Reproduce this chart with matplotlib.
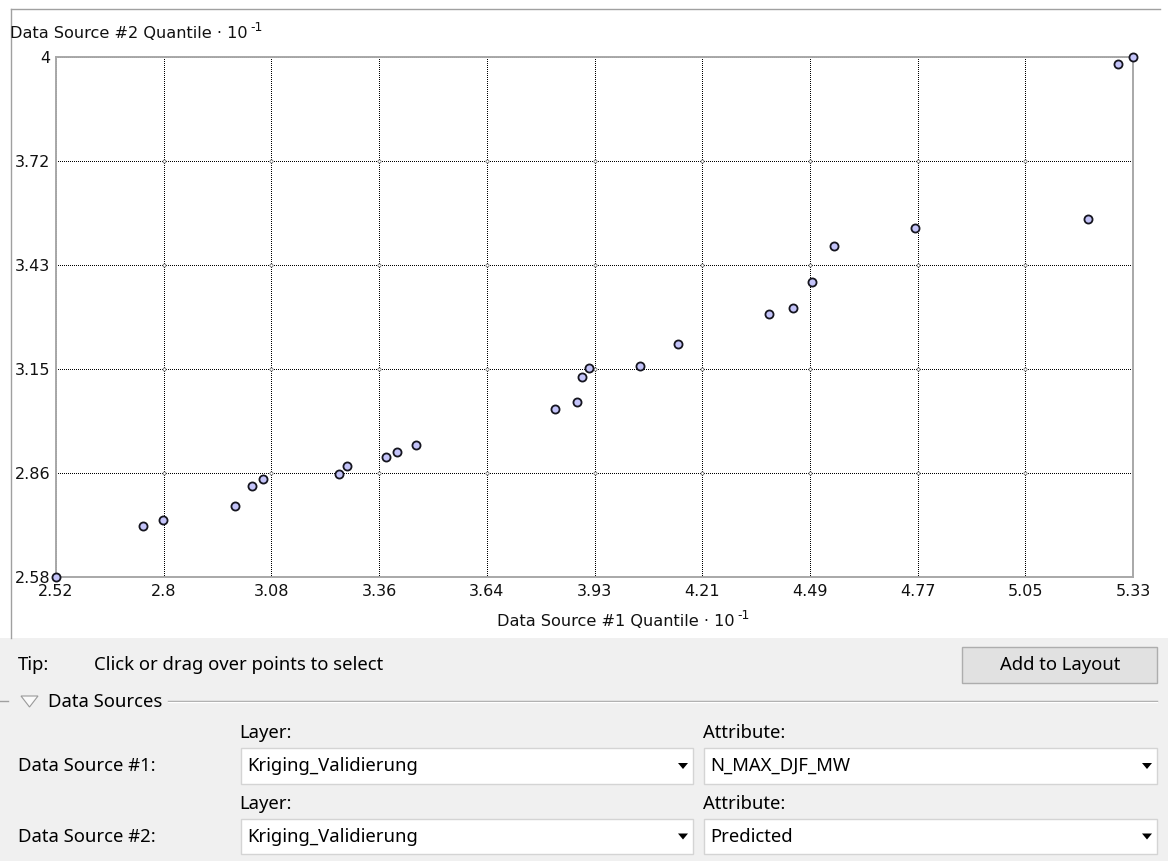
import numpy as np
import matplotlib
matplotlib.use("Agg")
import matplotlib.pyplot as plt
from matplotlib.patches import Rectangle, Polygon

W, H = 1168, 861

# quantiles (values are x 10^-1)
q_source1 = [2.52, 2.748, 2.800, 2.988, 3.031, 3.059, 3.259, 3.279, 3.381, 3.409,
             3.460, 3.823, 3.879, 3.893, 3.911, 4.043, 4.142, 4.381, 4.442, 4.492,
             4.550, 4.760, 5.212, 5.290, 5.33]
q_source2 = [2.58, 2.720, 2.736, 2.775, 2.829, 2.848, 2.863, 2.883, 2.908, 2.922,
             2.941, 3.040, 3.060, 3.128, 3.152, 3.158, 3.216, 3.299, 3.315, 3.387,
             3.486, 3.535, 3.559, 3.981, 4.0]

x_range = (2.52, 5.33)
y_range = (2.58, 4.0)
x_labels = ["2.52", "2.8", "3.08", "3.36", "3.64", "3.93", "4.21", "4.49", "4.77", "5.05", "5.33"]
y_labels = ["2.58", "2.86", "3.15", "3.43", "3.72", "4"]

CHART_FONT = "DejaVu Sans"
UI_FONT = "Noto Sans"
plt.rcParams["font.family"] = [CHART_FONT]

fig = plt.figure(figsize=(W / 100, H / 100), dpi=100, facecolor="white")

# background layer in pixel coordinates (y down) for the dialog parts
bg = fig.add_axes([0, 0, 1, 1], zorder=0)
bg.set_xlim(0, W)
bg.set_ylim(H, 0)
bg.axis("off")

bg.add_patch(Rectangle((0, 638), W, H - 638, facecolor="#f0f0f0", edgecolor="none"))
bg.plot([10.5, 10.5], [8.5, 638], color="#a0a0a0", lw=1)
bg.plot([10.5, 1160], [8.5, 8.5], color="#a0a0a0", lw=1)

# --- chart ---
ax = fig.add_axes([56 / W, 1 - 577.3 / H, 1077 / W, 520 / H], zorder=1)
ax.set_xlim(*x_range)
ax.set_ylim(*y_range)
xt = np.linspace(x_range[0], x_range[1], len(x_labels))
yt = np.linspace(y_range[0], y_range[1], len(y_labels))
ax.set_xticks(xt)
ax.set_xticklabels(x_labels)
ax.set_yticks(yt)
ax.set_yticklabels(y_labels)
ax.tick_params(length=0, labelsize=11.5, colors="#111111", pad=4)
ax.tick_params(axis="x", pad=5)
ax.grid(True, color="#000000", lw=0.72, ls=(0, (1, 2)), antialiased=False)
ax.set_axisbelow(True)
for s in ax.spines.values():
    s.set_color("#a8a8a8")
    s.set_linewidth(1.4)

# tiny rings where grid lines cross
gx, gy = np.meshgrid(xt[1:-1], yt[1:-1])
ax.scatter(gx.ravel(), gy.ravel(), s=5, facecolor="white", edgecolor="#666666", lw=0.5, zorder=2)

ax.scatter(q_source1, q_source2, s=34, facecolor="#c4c4fa", edgecolor="#15151f",
           linewidths=1.3, zorder=5, clip_on=False)

t1 = fig.text(10 / W, 1 - 34 / H, "Data Source #2 Quantile \u00b7 10", ha="left", va="center",
              fontsize=11.6, color="#111111")
ax.annotate("-1", xy=(1, 1), xycoords=t1, xytext=(2, -1), textcoords="offset points",
            ha="left", va="center", fontsize=9, color="#111111")
t2 = fig.text(616 / W, 1 - 622 / H, "Data Source #1 Quantile \u00b7 10", ha="center", va="center",
              fontsize=11.6, color="#111111")
ax.annotate("-1", xy=(1, 1), xycoords=t2, xytext=(2, -1), textcoords="offset points",
            ha="left", va="center", fontsize=9, color="#111111")

# --- dialog controls below the chart ---
ui = dict(family=UI_FONT, fontsize=13.3, color="#000000", va="center")

bg.text(18, 665, "Tip:", **ui)
bg.text(94, 665, "Click or drag over points to select", **ui)

bg.add_patch(Rectangle((962, 647), 195, 36, facecolor="#e1e1e1", edgecolor="#adadad", lw=1))
bg.text(1060, 665, "Add to Layout", ha="center", **ui)

bg.add_patch(Polygon([(21, 696), (38, 696), (29.5, 707)], closed=True,
                     facecolor="#fafafa", edgecolor="#9a9a9a", lw=0.8))
bg.text(48, 702, "Data Sources", **ui)
bg.plot([168, 1157], [701, 701], color="#a0a0a0", lw=1)
bg.plot([168, 1157], [702, 702], color="#ffffff", lw=1)
bg.plot([0, 8], [701, 701], color="#a0a0a0", lw=1)


def combo(x0, x1, y0, y1, label):
    bg.add_patch(Rectangle((x0, y0), x1 - x0, y1 - y0, facecolor="white",
                           edgecolor="#d4d4d4", lw=1))
    yc = (y0 + y1) / 2
    bg.text(x0 + 6, yc, label, **ui)
    ax_ = x1 - 10
    bg.add_patch(Polygon([(ax_ - 5, yc - 3), (ax_ + 5, yc - 3), (ax_, yc + 3)], closed=True,
                         facecolor="#000000", edgecolor="none"))


rows = [("Data Source #1:", "Kriging_Validierung", "N_MAX_DJF_MW", 733, 748, 784),
        ("Data Source #2:", "Kriging_Validierung", "Predicted", 804, 819, 854)]
for name, layer, attr, ylab, y0, y1 in rows:
    bg.text(239, ylab, "Layer:", **ui)
    bg.text(703, ylab, "Attribute:", **ui)
    bg.text(18, (y0 + y1) / 2, name, **ui)
    combo(241, 693, y0, y1, layer)
    combo(704, 1157, y0, y1, attr)

fig.savefig("out.png", dpi=100, facecolor="white")
